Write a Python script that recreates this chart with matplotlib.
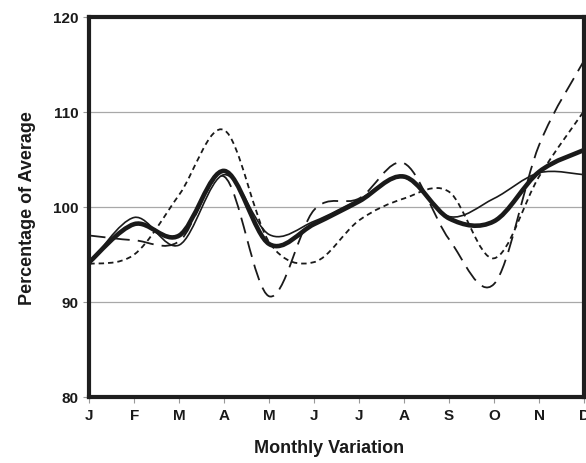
import numpy as np
import matplotlib
matplotlib.use('Agg')
import matplotlib.pyplot as plt
from matplotlib.path import Path
from matplotlib.patches import PathPatch

# Monthly values (percentage of average)
months = ['J', 'F', 'M', 'A', 'M', 'J', 'J', 'A', 'S', 'O', 'N', 'D']
thick_vals = [94.2, 98.2, 97.0, 103.8, 96.1, 98.2, 100.6, 103.2, 98.8, 98.5, 103.7, 106.0]
thin_vals = [94.0, 98.9, 96.0, 103.4, 97.1, 98.5, 100.8, 103.1, 99.0, 100.9, 103.6, 103.4]
long_dash_vals = [97.0, 96.5, 96.4, 103.2, 90.6, 99.7, 100.9, 104.6, 96.6, 91.9, 106.5, 115.4]
short_dash_vals = [94.0, 95.0, 101.3, 108.1, 96.3, 94.2, 98.6, 100.9, 101.6, 94.6, 103.2, 110.1]


def smooth_path(x, y):
    """Catmull-Rom style bezier path through the points (like spreadsheet smoothing)"""
    pts = np.column_stack([x, y]).astype(float)
    n = len(pts)
    verts = [pts[0]]
    codes = [Path.MOVETO]
    for i in range(n - 1):
        p0 = pts[i - 1] if i > 0 else pts[i]
        p1 = pts[i]
        p2 = pts[i + 1]
        p3 = pts[i + 2] if i + 2 < n else pts[i + 1]
        c1 = p1 + (p2 - p0) / 6.0
        c2 = p2 - (p3 - p1) / 6.0
        verts += [c1, c2, p2]
        codes += [Path.CURVE4] * 3
    return Path(verts, codes)


fig = plt.figure(figsize=(5.86, 4.64), dpi=100)
ax = fig.add_axes([89.3 / 586, 1 - 398 / 464, (584 - 89.3) / 586, (398 - 18) / 464])

x = np.arange(len(months))

styles = [
    (short_dash_vals, dict(lw=1.3, linestyle=(0, (3.0, 2.2)))),
    (long_dash_vals, dict(lw=1.3, linestyle=(0, (9.0, 4.5)))),
    (thin_vals, dict(lw=1.2, linestyle='-')),
    (thick_vals, dict(lw=3.3, linestyle='-')),
]
for vals, kw in styles:
    patch = PathPatch(smooth_path(x, vals), facecolor='none', edgecolor='#1a1a1a',
                      capstyle='butt', joinstyle='round', **kw)
    ax.add_patch(patch)

ax.set_xlim(0, 11)
ax.set_ylim(80, 120)
ax.set_yticks([80, 90, 100, 110, 120])
ax.set_xticks(x)
ax.set_xticklabels(months)

for yv in [90, 100, 110]:
    ax.axhline(yv, color='#a8a8a8', lw=0.9, zorder=0)

for s in ax.spines.values():
    s.set_linewidth(3.0)
    s.set_color('#1e1e1e')

ax.tick_params(axis='both', direction='out', length=4, width=0.8, color='#999999',
               labelsize=11, pad=4)
for lab in ax.get_xticklabels() + ax.get_yticklabels():
    lab.set_fontweight('bold')
    lab.set_fontfamily('Liberation Sans')
    lab.set_color('#1a1a1a')

ax.set_xlabel('Monthly Variation', fontsize=13, fontweight='bold',
              fontfamily='Liberation Sans', labelpad=12, color='#1a1a1a')
ax.xaxis.label.set_x(0.485)
ax.set_ylabel('Percentage of Average', fontsize=13, fontweight='bold',
              fontfamily='Liberation Sans', labelpad=12, color='#1a1a1a')

fig.savefig('out.png', dpi=100)
